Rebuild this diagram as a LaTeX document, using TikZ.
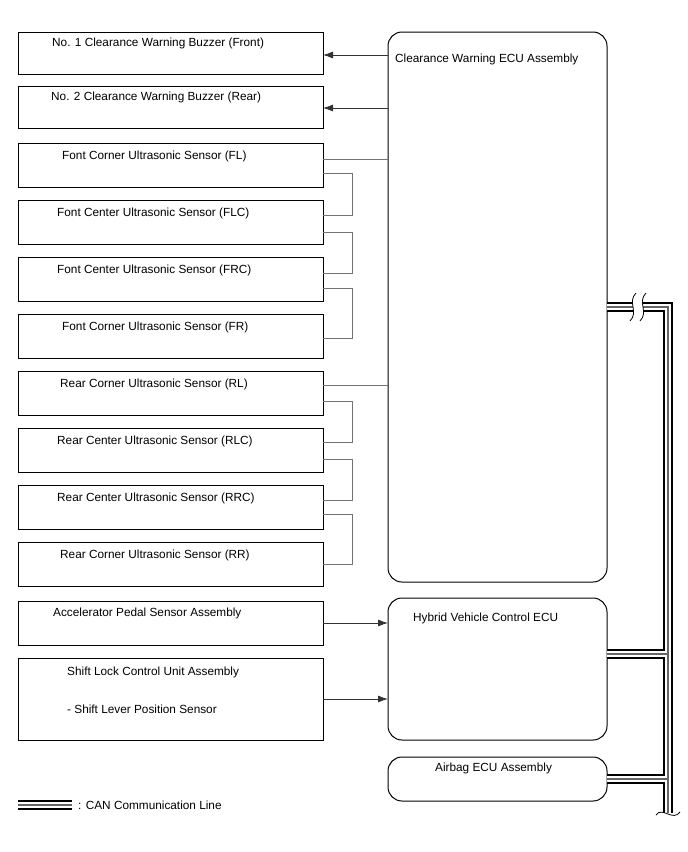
\documentclass[tikz,border=0pt]{standalone}
\usepackage{fontspec}
\setmainfont{Liberation Sans}
\usetikzlibrary{arrows.meta,positioning}

\begin{document}
\begin{tikzpicture}[
  x=1pt, y=-1pt,
  part/.style={draw, rectangle, line width=1pt, outer sep=0pt,
               minimum width=305pt, minimum height=44pt, inner sep=0pt},
  ecu/.style={draw, rectangle, rounded corners=14pt, line width=1pt,
              minimum width=219pt, inner sep=0pt, outer sep=0pt, anchor=north west},
  txt/.style={font=\fontsize{11.8}{14}\selectfont, anchor=west, inner sep=0pt},
  arr/.style={-{Latex[length=10pt,width=7pt]}, line width=0.8pt, black!80},
  wire/.style={black!55, line width=1pt},
  can/.style={line width=10pt, black},
  canw/.style={line width=6pt, white},
  canc/.style={line width=2pt, black!60},
  brk/.style={line width=0.8pt}
]
  \useasboundingbox (0,0) rectangle (688,852);

  %% Buzzers
  \node[part, minimum height=42pt, anchor=north west] (bz1) at (18,32) {};
  \node[part, minimum height=42pt, below=12pt of bz1] (bz2) {};

  %% Front sensors
  \node[part, below=15pt of bz2] (fl) {};
  \node[part, below=13pt of fl] (flc) {};
  \node[part, below=13pt of flc] (frc) {};
  \node[part, below=13pt of frc] (fr) {};

  %% Rear sensors
  \node[part, below=13pt of fr] (rl) {};
  \node[part, below=13pt of rl] (rlc) {};
  \node[part, below=13pt of rlc] (rrc) {};
  \node[part, below=13pt of rrc] (rr) {};

  %% Other inputs
  \node[part, below=15pt of rr] (acc) {};
  \node[part, minimum height=82pt, below=13pt of acc] (sl) {};

  %% ECUs
  \node[ecu, minimum height=550pt] (cw) at (388,32) {};
  \node[ecu, minimum height=142pt] (hv) at (388,598) {};
  \node[ecu, minimum height=44pt] (ab) at (388,757) {};

  %% Texts
  \node[txt] (bz1t) at ([shift={(34pt,-11pt)}]bz1.north west) {No. 1 Clearance Warning Buzzer (Front)};
  \node[txt] (bz2t) at ([shift={(33pt,-11pt)}]bz2.north west) {No. 2 Clearance Warning Buzzer (Rear)};
  \node[txt] (flt) at ([shift={(44pt,-13pt)}]fl.north west) {Font Corner Ultrasonic Sensor (FL)};
  \node[txt] (flct) at ([shift={(39pt,-13pt)}]flc.north west) {Font Center Ultrasonic Sensor (FLC)};
  \node[txt] (frct) at ([shift={(39pt,-13pt)}]frc.north west) {Font Center Ultrasonic Sensor (FRC)};
  \node[txt] (frt) at ([shift={(44pt,-13pt)}]fr.north west) {Font Corner Ultrasonic Sensor (FR)};
  \node[txt] (rlt) at ([shift={(42pt,-13pt)}]rl.north west) {Rear Corner Ultrasonic Sensor (RL)};
  \node[txt] (rlct) at ([shift={(39pt,-13pt)}]rlc.north west) {Rear Center Ultrasonic Sensor (RLC)};
  \node[txt] (rrct) at ([shift={(39pt,-13pt)}]rrc.north west) {Rear Center Ultrasonic Sensor (RRC)};
  \node[txt] (rrt) at ([shift={(42pt,-13pt)}]rr.north west) {Rear Corner Ultrasonic Sensor (RR)};
  \node[txt] (acct) at ([shift={(35pt,-12pt)}]acc.north west) {Accelerator Pedal Sensor Assembly};
  \node[txt] (slt) at ([shift={(49pt,-14pt)}]sl.north west) {Shift Lock Control Unit Assembly};
  \node[txt] (slst) at ([shift={(49pt,-51pt)}]sl.north west) {- Shift Lever Position Sensor};
  \node[txt] (cwt) at ([shift={(7pt,-27pt)}]cw.north west) {Clearance Warning ECU Assembly};
  \node[txt] (hvt) at ([shift={(25pt,-20pt)}]hv.north west) {Hybrid Vehicle Control ECU};
  \node[txt] (abt) at ([shift={(47pt,-11pt)}]ab.north west) {Airbag ECU Assembly};

  %% Arrows
  \draw[arr] ([yshift=-2pt]bz1.east -| cw.west) -- ([yshift=-2pt]bz1.east);
  \draw[arr] ([yshift=-1pt]bz2.east -| cw.west) -- ([yshift=-1pt]bz2.east);
  \draw[arr] (acc.east) -- (acc.east -| hv.west);
  \draw[arr] (sl.east) -- (sl.east -| hv.west);

  %% Sensor wiring
  \coordinate (flw) at ([yshift=-16pt]fl.north east);
  \coordinate (rlw) at ([yshift=-14pt]rl.north east);
  \draw[wire] (flw) -- (flw -| cw.west);
  \draw[wire] (rlw) -- (rlw -| cw.west);
  \draw[wire] ([yshift=-30pt]fl.north east) -- ++(29,0) |- ([yshift=-15pt]flc.north east);
  \draw[wire] ([yshift=-32pt]flc.north east) -- ++(29,0) |- ([yshift=-16pt]frc.north east);
  \draw[wire] ([yshift=-31pt]frc.north east) -- ++(29,0) |- ([yshift=-24pt]fr.north east);
  \draw[wire] ([yshift=-30pt]rl.north east) -- ++(29,0) |- ([yshift=-14pt]rlc.north east);
  \draw[wire] ([yshift=-31pt]rlc.north east) -- ++(29,0) |- ([yshift=-15pt]rrc.north east);
  \draw[wire] ([yshift=-29pt]rrc.north east) -- ++(29,0) |- ([yshift=-22pt]rr.north east);

  %% CAN bus
  \coordinate (can1) at ([yshift=-275pt]cw.north east);
  \coordinate (brkl) at ([xshift=26pt]can1);
  \coordinate (brkr) at ([xshift=36pt]can1);
  \coordinate (bus) at ([xshift=61pt]can1);
  \coordinate (busend) at ([yshift=-506pt]bus);
  \coordinate (hvc) at ([yshift=-56pt]hv.north east);
  \coordinate (abc) at ([yshift=-22pt]ab.north east);
  \coordinate (legl) at (18,805);
  \coordinate (legr) at (72,805);
  \foreach \st in {can,canw,canc}{
    \draw[\st] (can1) -- (brkl);
    \draw[\st] (brkr) -- (bus) -- (busend);
    \draw[\st] (hvc) -- (hvc -| bus);
    \draw[\st] (abc) -- (abc -| bus);
    \draw[\st] (legl) -- (legr);
  }
  \draw[brk] (636,293) .. controls (627,302) and (639,312) .. (630,321);
  \draw[brk] (646,293) .. controls (637,302) and (649,312) .. (640,321);
  \draw[brk] (656,815) .. controls (662,806) and (673,822) .. (680,812);

  %% Legend
  \node[txt] (legt) at (78,805) {: CAN Communication Line};
\end{tikzpicture}
\end{document}
